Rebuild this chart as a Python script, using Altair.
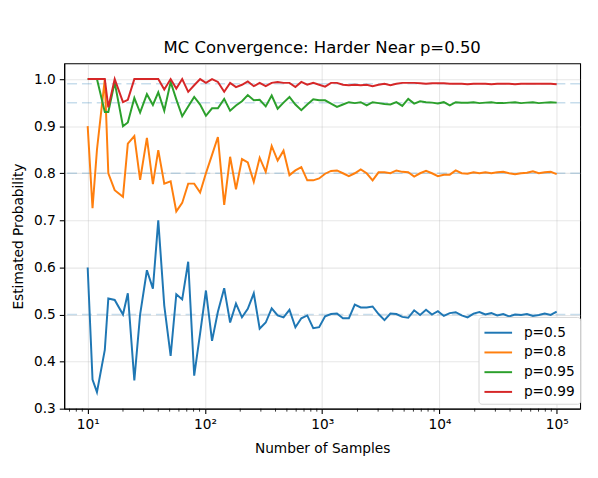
import altair as alt
import pandas as pd

# sample sizes (log-spaced, truncated to int)
samples = [10, 11, 12, 14, 15, 17, 20, 22, 25, 28, 32, 36, 40, 45, 51, 57, 64, 72, 81, 91,
           102, 115, 129, 146, 164, 184, 207, 232, 261, 293, 330, 371, 417, 468, 526, 591, 664, 746, 839, 942,
           1059, 1190, 1337, 1503, 1689, 1897, 2132, 2396, 2692, 3025, 3399, 3819, 4291, 4822, 5418, 6088,
           6840, 7686, 8636, 9704,
           10904, 12252, 13767, 15469, 17381, 19530, 21944, 24657, 27705, 31131, 34979, 39304, 44163,
           49622, 55757, 62649, 70394, 79097, 88875, 100000]

est_p050 = [0.60, 0.362, 0.335, 0.425, 0.534, 0.531, 0.50, 0.545, 0.36, 0.50, 0.594, 0.555, 0.70, 0.519,
            0.412, 0.543, 0.532, 0.612, 0.370, 0.46, 0.551,
            0.444, 0.506, 0.556, 0.483, 0.523, 0.494, 0.512, 0.545, 0.47, 0.483, 0.513, 0.498, 0.494, 0.51,
            0.473, 0.492, 0.498, 0.471, 0.473, 0.496,
            0.501, 0.502, 0.492, 0.492, 0.521, 0.515, 0.515, 0.517, 0.501, 0.488, 0.502, 0.501, 0.495, 0.493,
            0.509, 0.499, 0.51, 0.50,
            0.507, 0.497, 0.503, 0.505, 0.498, 0.494, 0.502, 0.505, 0.5, 0.503, 0.498, 0.501, 0.496, 0.5,
            0.499, 0.501, 0.497, 0.499, 0.502, 0.499, 0.506]

est_p080 = [0.90, 0.726, 0.85, 1.0, 0.80, 0.764, 0.75, 0.863, 0.879, 0.786, 0.875, 0.777, 0.849, 0.778,
            0.783, 0.719, 0.737, 0.778, 0.778, 0.759, 0.80,
            0.839, 0.877, 0.733, 0.835, 0.766, 0.83, 0.823, 0.782, 0.833, 0.803, 0.858, 0.827, 0.848, 0.796,
            0.806, 0.813, 0.785, 0.785, 0.789, 0.799,
            0.805, 0.806, 0.80, 0.794, 0.80, 0.808, 0.80, 0.785, 0.802, 0.802, 0.80, 0.806, 0.803, 0.802,
            0.793, 0.80, 0.805, 0.80,
            0.794, 0.797, 0.797, 0.806, 0.80, 0.799, 0.802, 0.80, 0.802, 0.80, 0.802, 0.803, 0.80, 0.798,
            0.80, 0.801, 0.804, 0.80, 0.802, 0.803, 0.798]

est_p095 = [1.0, 1.0, 1.0, 0.93, 0.93, 0.993, 0.90, 0.908, 0.96, 0.929, 0.968, 0.945, 0.972, 0.933,
            0.994, 0.957, 0.921, 0.942, 0.962, 0.946, 0.922,
            0.938, 0.938, 0.958, 0.933, 0.944, 0.953, 0.966, 0.955, 0.956, 0.942, 0.965, 0.937, 0.95, 0.962,
            0.946, 0.934, 0.946, 0.957, 0.955, 0.955,
            0.948, 0.941, 0.946, 0.951, 0.949, 0.951, 0.944, 0.951, 0.949, 0.947, 0.946, 0.951, 0.943, 0.958,
            0.948, 0.953, 0.951, 0.95,
            0.948, 0.951, 0.944, 0.951, 0.95, 0.95, 0.951, 0.949, 0.95, 0.951, 0.949, 0.949, 0.95, 0.951,
            0.949, 0.95, 0.951, 0.949, 0.95, 0.951, 0.95]

est_p099 = [1.0, 1.0, 1.0, 1.0, 0.94, 1.0, 0.951, 0.956, 1.0, 1.0, 1.0, 1.0, 1.0, 0.978, 1.0, 0.98, 1.0,
            0.973, 0.987, 1.0, 0.992,
            1.0, 0.994, 0.973, 0.992, 0.983, 0.988, 0.995, 0.985, 0.992, 0.985, 0.992, 0.994, 0.992, 0.992,
            0.983, 0.994, 0.988, 0.992, 0.988, 0.984,
            0.992, 0.992, 0.988, 0.987, 0.988, 0.987, 0.988, 0.985, 0.988, 0.99, 0.987, 0.99, 0.992, 0.992,
            0.992, 0.991, 0.99, 0.991,
            0.991, 0.991, 0.99, 0.99, 0.99, 0.989, 0.99, 0.99, 0.99, 0.989, 0.99, 0.99, 0.99, 0.989, 0.99,
            0.99, 0.99, 0.99, 0.99, 0.99, 0.989]

series_names = ["p=0.5", "p=0.8", "p=0.95", "p=0.99"]
true_p = [0.5, 0.8, 0.95, 0.99]
colors = ["#1f77b4", "#ff7f0e", "#2ca02c", "#d62728"]

major_ticks = [10, 100, 1000, 10000, 100000]
minor_ticks = [7, 8, 9,
               20, 30, 40, 50, 60, 70, 80, 90,
               200, 300, 400, 500, 600, 700, 800, 900,
               2000, 3000, 4000, 5000, 6000, 7000, 8000, 9000,
               20000, 30000, 40000, 50000, 60000, 70000, 80000, 90000]
y_ticks = [0.3, 0.4, 0.5, 0.6, 0.7, 0.8, 0.9, 1.0]

FONT = "DejaVu Sans"
W, H = 523, 350

rows = []
for name, vals in zip(series_names, [est_p050, est_p080, est_p095, est_p099]):
    for n, v in zip(samples, vals):
        rows.append({"n": n, "estimate": v, "series": name})
df = pd.DataFrame(rows)
ref_df = pd.DataFrame({"p": true_p})
minor_df = pd.DataFrame({"n": minor_ticks})

xscale = alt.Scale(type="log", domain=[6.31, 158489], nice=False)
yscale = alt.Scale(domain=[0.3, 1.0333], nice=False, zero=False)

refs = alt.Chart(ref_df).mark_rule(
    color="#1f77b4", opacity=0.25, strokeWidth=1.5, strokeDash=[10, 5]
).encode(y=alt.Y("p:Q", scale=yscale))

lines = alt.Chart(df).mark_line(strokeWidth=2).encode(
    x=alt.X("n:Q", scale=xscale, title="Number of Samples",
            axis=alt.Axis(values=major_ticks,
                          labelExpr="'10' + ['⁰','¹','²','³','⁴','⁵'][round(log(datum.value) / LN10)]")),
    y=alt.Y("estimate:Q", scale=yscale, title="Estimated Probability",
            axis=alt.Axis(values=y_ticks, format=".1f")),
    color=alt.Color("series:N", sort=series_names,
                    scale=alt.Scale(domain=series_names, range=colors),
                    # longer legend handle, like matplotlib's
                    legend=alt.Legend(title=None, orient="none", legendX=420, legendY=257,
                                      symbolType="M-1,0H1.8", symbolSize=400, symbolStrokeWidth=2,
                                      labelFontSize=13.9, labelFont=FONT, labelOffset=19,
                                      rowPadding=2,
                                      strokeColor="#d5d5d5", fillColor="white", padding=5,
                                      cornerRadius=3)),
    order=alt.Order("n:Q"),
)

minor = alt.Chart(minor_df).mark_rule(color="black", strokeWidth=0.8).encode(
    x=alt.X("n:Q", scale=xscale),
    y=alt.value(H), y2=alt.value(H + 3),
)

chart = alt.layer(refs, lines, minor).properties(
    width=W, height=H,
    title=alt.Title("MC Convergence: Harder Near p=0.50", fontSize=16.7, fontWeight="normal",
                    font=FONT, color="black", offset=7),
    autosize=alt.AutoSizeParams(type="none"),
    padding={"left": 57, "top": 53, "right": 10, "bottom": 60},
).configure_axis(
    labelFont=FONT, titleFont=FONT, labelFontSize=13.9, titleFontSize=13.9,
    titleFontWeight="normal", labelColor="black", titleColor="black",
    domainColor="black", tickColor="black", domainWidth=1.1, tickWidth=1.1, tickSize=5,
    labelPadding=4, gridColor="#b0b0b0", gridOpacity=0.3, gridWidth=1.1,
).configure_axisX(titlePadding=11).configure_axisY(titlePadding=8).configure_view(
    stroke="black", strokeWidth=1.1
)

chart.save("out.html", embed_options={"renderer": "svg", "actions": False})
